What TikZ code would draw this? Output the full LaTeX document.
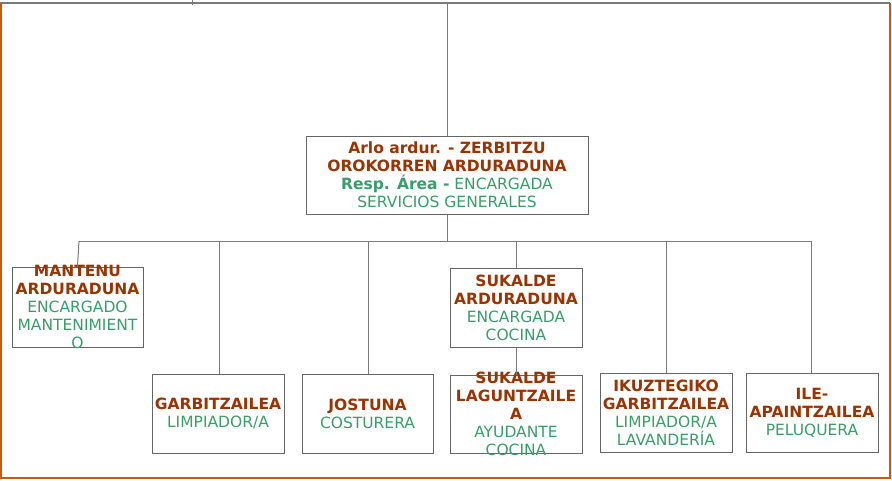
\documentclass[tikz,border=0pt]{standalone}
\usepackage{fontspec}
\setmainfont{DejaVu Sans}
\definecolor{tbrown}{HTML}{993300}
\definecolor{tgreen}{HTML}{3A9C6A}
\definecolor{frameor}{HTML}{C55A11}
\definecolor{linegray}{HTML}{7A7A7A}
\definecolor{boxgray}{HTML}{666666}
\newcommand{\hd}[1]{\textcolor{tbrown}{\textbf{#1}}}
\newcommand{\gr}[1]{\textcolor{tgreen}{#1}}
\begin{document}
\begin{tikzpicture}[x=1pt,y=-1pt,
  box/.style={draw=boxgray,line width=1pt,inner sep=0pt,minimum width=#1,minimum height=79pt},
  box/.default=132pt,
  txt/.style={align=center,inner sep=0pt,font=\fontsize{15.5}{18}\selectfont},
  conn/.style={draw=linegray,line width=1pt}]
\useasboundingbox (0,0) rectangle (892,480);
% frame
\draw[draw=linegray,line width=1.5pt] (0,3) -- (890,3);
\draw[draw=linegray,line width=1pt] (192,0) -- (192,4.5);
\draw[draw=frameor,line width=2.5pt] (1.2,3) -- (1.2,478) -- (890,478) -- (890,3);
% boxes
\node[box=282pt,minimum height=78pt] (main) at (447,175) {};
\node[box=131pt,minimum height=80pt] (mant) at (77.5,307) {};
\node[box] (suk) at (516,307.5) {};
\node[box] (garb) at (218,413.5) {};
\node[box=131pt] (jost) at (367.5,413.5) {};
\node[box,minimum height=78pt] (lag) at (516,414) {};
\node[box] (ikuz) at (666,412.5) {};
\node[box] (ile) at (812,412.5) {};
% texts
\begin{scope}[yshift=-1pt]
\node[txt] (tmain) at (main.center) {\hd{Arlo ardur. - ZERBITZU}\\\hd{OROKORREN ARDURADUNA}\\\gr{\textbf{Resp. Área -} ENCARGADA}\\\gr{SERVICIOS GENERALES}};
\node[txt] (tmant) at (mant.center) {\hd{MANTENU}\\\hd{ARDURADUNA}\\\gr{ENCARGADO}\\\gr{MANTENIMIENT}\\\gr{O}};
\node[txt] (tsuk) at (suk.center) {\hd{SUKALDE}\\\hd{ARDURADUNA}\\\gr{ENCARGADA}\\\gr{COCINA}};
\node[txt] (tgarb) at (garb.center) {\hd{GARBITZAILEA}\\\gr{LIMPIADOR/A}};
\node[txt] (tjost) at (jost.center) {\hd{JOSTUNA}\\\gr{COSTURERA}};
\node[txt] (tlag) at (lag.center) {\hd{SUKALDE}\\\hd{LAGUNTZAILE}\\\hd{A}\\\gr{AYUDANTE}\\\gr{COCINA}};
\node[txt] (tikuz) at (ikuz.center) {\hd{IKUZTEGIKO}\\\hd{GARBITZAILEA}\\\gr{LIMPIADOR/A}\\\gr{LAVANDERÍA}};
\node[txt] (tile) at (ile.center) {\hd{ILE-}\\\hd{APAINTZAILEA}\\\gr{PELUQUERA}};
\end{scope}
% connectors
\coordinate (top) at (447,3);
\coordinate (bar) at (447,241);
\coordinate (b1) at (79,241);
\coordinate (b2) at (219,241);
\coordinate (b3) at (368,241);
\coordinate (b4) at (516,241);
\coordinate (b5) at (666,241);
\coordinate (b6) at (811,241);
\draw[conn] (top) -- (main.north);
\draw[conn] (main.south) -- (bar);
\draw[conn] (b1) -- (b6);
\draw[conn] (b1) -- (mant.north);
\draw[conn] (b2) -- (b2 |- garb.north);
\draw[conn] (b3) -- (b3 |- jost.north);
\draw[conn] (b4) -- (suk.north);
\draw[conn] (b5) -- (b5 |- ikuz.north);
\draw[conn] (b6) -- (b6 |- ile.north);
\draw[conn] (suk.south) -- (lag.north);
\end{tikzpicture}
\end{document}
